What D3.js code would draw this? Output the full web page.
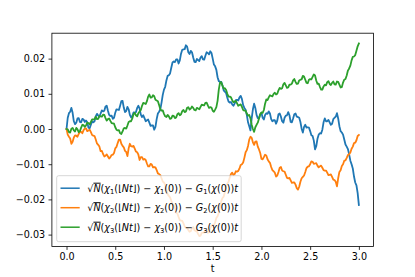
<!DOCTYPE html>
<html>
<head>
  <meta charset="utf-8">
  <script src="https://d3js.org/d3.v7.min.js"></script>
  <style>
    body { margin: 0; padding: 0; background: white; overflow: hidden; }
    svg { display: block; font-family: "DejaVu Sans", sans-serif; }
  </style>
</head>
<body>
  <svg width="415" height="277"></svg>
  <script>
    // time grid (0 .. 3)
    const tValues = [
      0,0.0125,0.025,0.0375,0.05,0.0625,0.075,0.0875,0.1,0.1125,0.125,0.1375,0.15,0.1625,0.175,0.1875,0.2,0.2125,0.225,0.2375,
      0.25,0.2625,0.275,0.2875,0.3,0.3125,0.325,0.3375,0.35,0.3625,0.375,0.3875,0.4,0.4125,0.425,0.4375,0.45,0.4625,0.475,0.4875,
      0.5,0.5125,0.525,0.5375,0.55,0.5625,0.575,0.5875,0.6,0.6125,0.625,0.6375,0.65,0.6625,0.675,0.6875,0.7,0.7125,0.725,0.7375,
      0.75,0.7625,0.775,0.7875,0.8,0.8125,0.825,0.8375,0.85,0.8625,0.875,0.8875,0.9,0.9125,0.925,0.9375,0.95,0.9625,0.975,0.9875,
      1.0,1.0125,1.025,1.0375,1.05,1.0625,1.075,1.0875,1.1,1.1125,1.125,1.1375,1.15,1.1625,1.175,1.1875,1.2,1.2125,1.225,1.2375,
      1.25,1.2625,1.275,1.2875,1.3,1.3125,1.325,1.3375,1.35,1.3625,1.375,1.3875,1.4,1.4125,1.425,1.4375,1.45,1.4625,1.475,1.4875,
      1.5,1.5125,1.525,1.5375,1.55,1.5625,1.575,1.5875,1.6,1.6125,1.625,1.6375,1.65,1.6625,1.675,1.6875,1.7,1.7125,1.725,1.7375,
      1.75,1.7625,1.775,1.7875,1.8,1.8125,1.825,1.8375,1.85,1.8625,1.875,1.8875,1.9,1.9125,1.925,1.9375,1.95,1.9625,1.975,1.9875,
      2.0,2.0125,2.025,2.0375,2.05,2.0625,2.075,2.0875,2.1,2.1125,2.125,2.1375,2.15,2.1625,2.175,2.1875,2.2,2.2125,2.225,2.2375,
      2.25,2.2625,2.275,2.2875,2.3,2.3125,2.325,2.3375,2.35,2.3625,2.375,2.3875,2.4,2.4125,2.425,2.4375,2.45,2.4625,2.475,2.4875,
      2.5,2.5125,2.525,2.5375,2.55,2.5625,2.575,2.5875,2.6,2.6125,2.625,2.6375,2.65,2.6625,2.675,2.6875,2.7,2.7125,2.725,2.7375,
      2.75,2.7625,2.775,2.7875,2.8,2.8125,2.825,2.8375,2.85,2.8625,2.875,2.8875,2.9,2.9125,2.925,2.9375,2.95,2.9625,2.975,2.9875,
      3.0];

    // chi_1 (blue)
    const series1 = [
      0.0000,0.0032,0.0045,0.0049,0.0060,0.0046,0.0022,0.0014,0.0018,0.0030,0.0031,0.0020,0.0019,0.0029,0.0027,0.0020,0.0024,0.0019,0.0004,0.0002,
      0.0012,0.0021,0.0019,0.0022,0.0036,0.0043,0.0038,0.0035,0.0044,0.0053,0.0050,0.0052,0.0064,0.0066,0.0052,0.0040,0.0037,0.0038,0.0029,0.0032,
      0.0046,0.0056,0.0055,0.0054,0.0066,0.0079,0.0080,0.0061,0.0048,0.0051,0.0063,0.0056,0.0040,0.0033,0.0037,0.0047,0.0046,0.0048,0.0060,0.0066,
      0.0058,0.0041,0.0034,0.0039,0.0031,0.0022,0.0025,0.0027,0.0018,0.0009,0.0010,0.0010,-0.0002,0.0006,0.0028,0.0044,0.0049,0.0056,0.0075,0.0097,
      0.0112,0.0120,0.0138,0.0151,0.0153,0.0158,0.0174,0.0189,0.0192,0.0190,0.0198,0.0198,0.0186,0.0195,0.0214,0.0225,0.0226,0.0227,0.0238,0.0234,
      0.0218,0.0213,0.0222,0.0218,0.0203,0.0191,0.0190,0.0199,0.0196,0.0193,0.0203,0.0207,0.0198,0.0197,0.0208,0.0218,0.0216,0.0212,0.0221,0.0216,
      0.0200,0.0183,0.0178,0.0168,0.0147,0.0136,0.0134,0.0134,0.0124,0.0110,0.0106,0.0102,0.0089,0.0078,0.0075,0.0077,0.0070,0.0066,0.0072,0.0082,
      0.0083,0.0081,0.0090,0.0094,0.0085,0.0068,0.0060,0.0055,0.0040,0.0019,0.0008,-0.0004,0.0030,0.0056,0.0072,0.0060,0.0040,0.0031,0.0030,0.0042,
      0.0046,0.0032,0.0027,0.0040,0.0045,0.0043,0.0050,0.0044,0.0028,0.0022,0.0025,0.0025,0.0015,0.0024,0.0042,0.0044,0.0035,0.0022,0.0018,0.0032,
      0.0038,0.0039,0.0048,0.0039,0.0020,0.0019,0.0030,0.0042,0.0044,0.0035,0.0034,0.0032,0.0020,0.0001,-0.0010,0.0006,0.0012,0.0004,0.0005,0.0004,
      -0.0006,-0.0018,-0.0020,-0.0033,-0.0058,-0.0049,-0.0028,-0.0016,-0.0012,-0.0013,-0.0002,0.0019,0.0030,0.0022,0.0022,0.0026,0.0019,0.0012,0.0015,0.0028,
      0.0032,0.0035,0.0045,0.0030,0.0008,-0.0006,-0.0010,-0.0016,-0.0030,-0.0044,-0.0050,-0.0057,-0.0072,-0.0090,-0.0100,-0.0112,-0.0135,-0.0152,-0.0160,-0.0182,
      -0.0216];

    // chi_2 (orange)
    const series2 = [
      0.0000,-0.0016,-0.0022,-0.0027,-0.0042,-0.0036,-0.0024,-0.0018,-0.0019,-0.0022,-0.0014,-0.0008,-0.0008,-0.0012,-0.0003,0.0001,0.0002,-0.0006,-0.0004,-0.0002,
      -0.0009,-0.0017,-0.0019,-0.0020,-0.0030,-0.0041,-0.0045,-0.0050,-0.0063,-0.0062,-0.0071,-0.0078,-0.0076,-0.0072,-0.0078,-0.0084,-0.0080,-0.0074,-0.0073,-0.0068,
      -0.0055,-0.0051,-0.0040,-0.0030,-0.0030,-0.0042,-0.0048,-0.0052,-0.0062,-0.0065,-0.0077,-0.0055,-0.0042,-0.0049,-0.0050,-0.0048,-0.0056,-0.0064,-0.0066,-0.0073,
      -0.0088,-0.0080,-0.0080,-0.0087,-0.0085,-0.0088,-0.0098,-0.0106,-0.0106,-0.0099,-0.0101,-0.0109,-0.0108,-0.0109,-0.0117,-0.0126,-0.0128,-0.0131,-0.0140,-0.0149,
      -0.0152,-0.0159,-0.0172,-0.0185,-0.0190,-0.0194,-0.0204,-0.0213,-0.0215,-0.0224,-0.0238,-0.0240,-0.0250,-0.0259,-0.0260,-0.0261,-0.0268,-0.0277,-0.0280,-0.0281,
      -0.0287,-0.0292,-0.0290,-0.0282,-0.0279,-0.0287,-0.0290,-0.0291,-0.0298,-0.0304,-0.0303,-0.0295,-0.0294,-0.0294,-0.0288,-0.0287,-0.0295,-0.0292,-0.0282,-0.0274,
      -0.0272,-0.0273,-0.0265,-0.0253,-0.0248,-0.0238,-0.0222,-0.0205,-0.0196,-0.0192,-0.0180,-0.0163,-0.0155,-0.0150,-0.0138,-0.0128,-0.0124,-0.0131,-0.0128,-0.0120,
      -0.0121,-0.0119,-0.0112,-0.0102,-0.0100,-0.0095,-0.0082,-0.0066,-0.0060,-0.0048,-0.0030,-0.0022,-0.0025,-0.0038,-0.0045,-0.0036,-0.0035,-0.0050,-0.0058,-0.0068,
      -0.0085,-0.0086,-0.0080,-0.0073,-0.0075,-0.0086,-0.0092,-0.0096,-0.0108,-0.0117,-0.0120,-0.0124,-0.0135,-0.0132,-0.0122,-0.0110,-0.0108,-0.0118,-0.0120,-0.0121,
      -0.0130,-0.0139,-0.0140,-0.0139,-0.0146,-0.0153,-0.0152,-0.0152,-0.0158,-0.0168,-0.0172,-0.0164,-0.0150,-0.0140,-0.0136,-0.0132,-0.0122,-0.0111,-0.0107,-0.0106,
      -0.0100,-0.0092,-0.0093,-0.0099,-0.0098,-0.0097,-0.0104,-0.0109,-0.0106,-0.0104,-0.0110,-0.0117,-0.0118,-0.0118,-0.0124,-0.0131,-0.0130,-0.0129,-0.0136,-0.0144,
      -0.0145,-0.0150,-0.0163,-0.0140,-0.0122,-0.0117,-0.0105,-0.0100,-0.0090,-0.0089,-0.0082,-0.0074,-0.0072,-0.0067,-0.0056,-0.0050,-0.0040,-0.0039,-0.0032,-0.0020,
      -0.0017];

    // chi_3 (green)
    const series3 = [
      0.0000,-0.0001,-0.0009,-0.0010,0.0001,0.0003,-0.0004,-0.0007,0.0003,-0.0001,-0.0009,-0.0006,0.0004,0.0012,0.0011,0.0006,0.0010,0.0018,0.0017,0.0013,
      0.0020,0.0027,0.0027,0.0028,0.0035,0.0028,0.0029,0.0037,0.0036,0.0035,0.0041,0.0040,0.0031,0.0024,0.0028,0.0030,0.0023,0.0017,0.0016,0.0015,
      0.0005,-0.0002,-0.0004,-0.0003,-0.0012,-0.0014,-0.0007,0.0002,0.0003,0.0001,0.0010,0.0020,0.0022,0.0022,0.0030,0.0042,0.0046,0.0039,0.0036,0.0045,
      0.0050,0.0054,0.0066,0.0074,0.0073,0.0071,0.0079,0.0092,0.0098,0.0089,0.0090,0.0096,0.0093,0.0083,0.0081,0.0079,0.0068,0.0056,0.0052,0.0053,
      0.0043,0.0036,0.0034,0.0040,0.0036,0.0029,0.0030,0.0038,0.0037,0.0031,0.0033,0.0042,0.0045,0.0039,0.0042,0.0051,0.0054,0.0048,0.0050,0.0060,
      0.0062,0.0055,0.0058,0.0064,0.0060,0.0054,0.0053,0.0060,0.0058,0.0056,0.0063,0.0069,0.0068,0.0067,0.0074,0.0075,0.0067,0.0060,0.0062,0.0061,
      0.0052,0.0049,0.0055,0.0062,0.0080,0.0112,0.0132,0.0133,0.0123,0.0115,0.0116,0.0111,0.0100,0.0092,0.0092,0.0090,0.0082,0.0076,0.0078,0.0080,
      0.0073,0.0066,0.0068,0.0070,0.0063,0.0054,0.0052,0.0052,0.0044,0.0038,0.0040,0.0030,0.0012,0.0000,-0.0008,0.0005,0.0012,0.0018,0.0030,0.0042,
      0.0047,0.0046,0.0054,0.0072,0.0084,0.0082,0.0090,0.0096,0.0094,0.0093,0.0100,0.0103,0.0098,0.0100,0.0110,0.0117,0.0114,0.0116,0.0127,0.0131,
      0.0124,0.0117,0.0118,0.0126,0.0126,0.0129,0.0138,0.0142,0.0134,0.0128,0.0129,0.0138,0.0140,0.0141,0.0151,0.0149,0.0140,0.0131,0.0130,0.0140,
      0.0142,0.0141,0.0148,0.0155,0.0152,0.0138,0.0128,0.0129,0.0120,0.0112,0.0112,0.0121,0.0126,0.0124,0.0133,0.0136,0.0128,0.0125,0.0131,0.0135,
      0.0127,0.0126,0.0135,0.0134,0.0126,0.0118,0.0119,0.0132,0.0140,0.0142,0.0152,0.0166,0.0172,0.0180,0.0195,0.0205,0.0206,0.0210,0.0222,0.0235,
      0.0243];

    const seriesColors = ["#1f77b4", "#ff7f0e", "#2ca02c"];
    const xTicks = [0, 0.5, 1.0, 1.5, 2.0, 2.5, 3.0];
    const yTicks = [-0.03, -0.02, -0.01, 0.00, 0.01, 0.02];

    const svg = d3.select("svg"),
          margin = { top: 33.2, right: 41.5, bottom: 30.5, left: 51.9 },
          width = +svg.attr("width") - margin.left - margin.right,
          height = +svg.attr("height") - margin.top - margin.bottom,
          g = svg.append("g").attr("transform", "translate(" + margin.left + "," + margin.top + ")");

    const fs = 9.6;

    const xScale = d3.scaleLinear().domain([-0.15, 3.15]).range([0, width]);
    const yScale = d3.scaleLinear().domain([-0.03338, 0.02722]).range([height, 0]);

    // axes
    const xAxis = g.append("g")
        .attr("transform", "translate(0," + height + ")")
        .call(d3.axisBottom(xScale).tickValues(xTicks).tickFormat(d3.format(".1f"))
          .tickSizeInner(3.4).tickSizeOuter(0).tickPadding(3.4));
    const yAxis = g.append("g")
        .call(d3.axisLeft(yScale).tickValues(yTicks).tickFormat(d3.format(".2f"))
          .tickSizeInner(3.4).tickSizeOuter(0).tickPadding(3.4));
    [xAxis, yAxis].forEach(a => {
      a.select(".domain").remove();
      a.selectAll("line").attr("stroke", "black").attr("stroke-width", 0.8);
      a.selectAll("text").attr("font-family", "DejaVu Sans").attr("font-size", fs).attr("fill", "black");
    });

    // lines
    const line = d3.line().x((d, i) => xScale(tValues[i])).y(d => yScale(d));
    [series1, series2, series3].forEach((s, i) => {
      if (s.length !== tValues.length) console.error("length mismatch", i, s.length);
      g.append("path")
        .datum(s)
        .attr("d", line)
        .attr("fill", "none")
        .attr("stroke", seriesColors[i])
        .attr("stroke-width", 1.8)
        .attr("stroke-linejoin", "round")
        .attr("stroke-linecap", "square");
    });

    // frame
    g.append("rect")
      .attr("width", width).attr("height", height)
      .attr("fill", "none").attr("stroke", "black").attr("stroke-width", 0.8);

    // x label
    g.append("text")
      .attr("x", width / 2).attr("y", height + 25.5)
      .attr("text-anchor", "middle")
      .attr("font-size", fs)
      .text("t");

    // legend
    const leg = g.append("g").attr("transform", "translate(4.8," + (height - 4.8 - 66) + ")");
    leg.append("rect")
      .attr("width", 184.5).attr("height", 66)
      .attr("rx", 2).attr("ry", 2)
      .attr("fill", "white").attr("fill-opacity", 0.8)
      .attr("stroke", "#cccccc").attr("stroke-width", 0.8);

    const legRows = [1, 2, 3];
    legRows.forEach((k, i) => {
      const cy = 12.5 + i * 19.5;
      leg.append("line")
        .attr("x1", 3.8).attr("x2", 23)
        .attr("y1", cy).attr("y2", cy)
        .attr("stroke", seriesColors[i]).attr("stroke-width", 1.5);
      const txt = leg.append("text")
        .attr("x", 30.6).attr("y", cy + 3.5)
        .attr("font-size", fs).attr("fill", "black");
      const sub = s => txt.append("tspan").attr("font-size", fs * 0.7).attr("dy", 2.2).text(s);
      const up = s => txt.append("tspan").attr("font-size", fs).attr("dy", -2.2).text(s);
      txt.append("tspan").text("\u221A");
      txt.append("tspan").attr("font-style", "italic").attr("text-decoration", "overline").text("N");
      txt.append("tspan").text("(");
      txt.append("tspan").attr("font-style", "italic").text("\u03C7");
      sub(String(k));
      up("(\u230A");
      txt.append("tspan").attr("font-style", "italic").text("Nt");
      txt.append("tspan").text("\u230B) \u2212 ");
      txt.append("tspan").attr("font-style", "italic").text("\u03C7");
      sub(String(k));
      up("(0)) \u2212 ");
      txt.append("tspan").attr("font-style", "italic").text("G");
      sub(String(k));
      up("(");
      txt.append("tspan").attr("font-style", "italic").text("\u03C7");
      txt.append("tspan").text("(0))");
      txt.append("tspan").attr("font-style", "italic").text("t");
    });
  </script>
</body>
</html>
